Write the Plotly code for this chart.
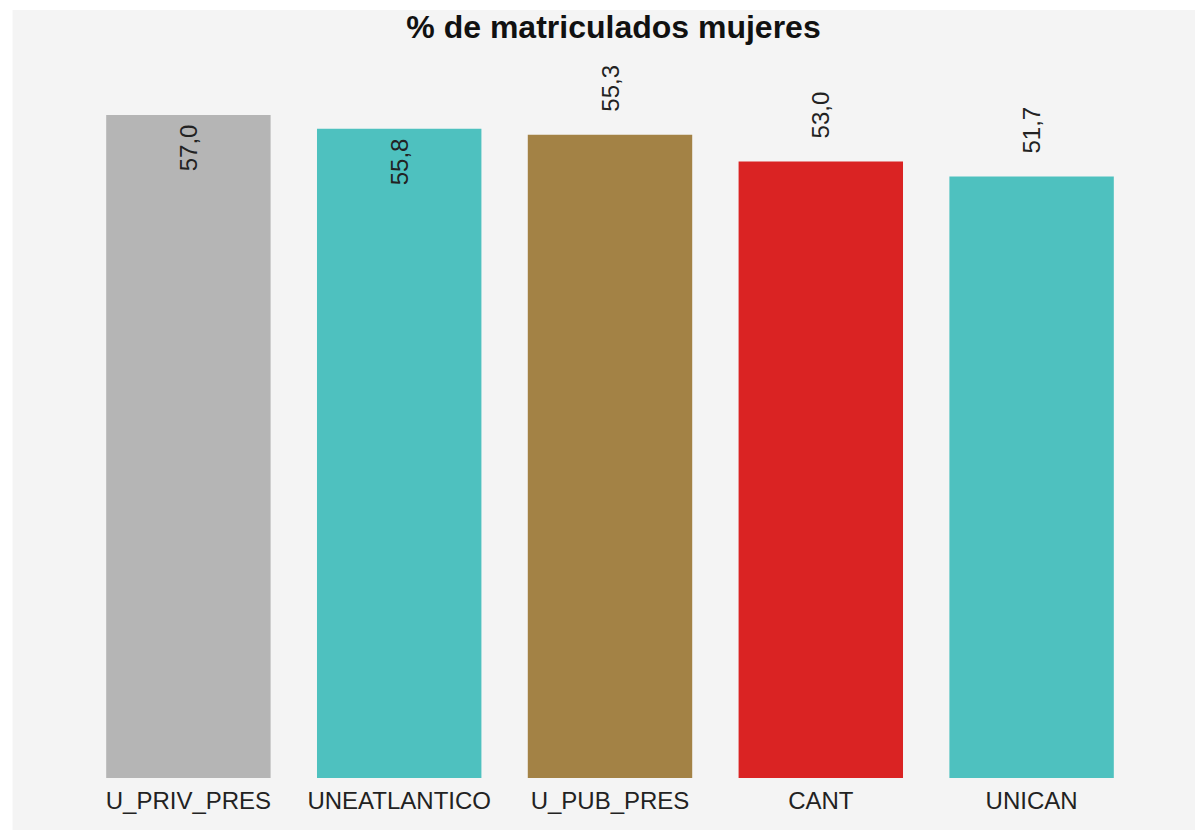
import plotly.graph_objects as go

categories = ["U_PRIV_PRES", "UNEATLANTICO", "U_PUB_PRES", "CANT", "UNICAN"]
values = [57.0, 55.8, 55.3, 53.0, 51.7]
labels = ["57,0", "55,8", "55,3", "53,0", "51,7"]
colors = ["#b5b5b5", "#4ec1bf", "#a38245", "#da2323", "#4ec1bf"]
text_positions = ["inside", "inside", "outside", "outside", "outside"]

W, H = 1195, 822
L, R, T, B = 74.5, 65.5, 72, 52
BG = "#f4f4f4"
NB = "\u00a0"

templates = [("%{text}" + NB) if p == "inside" else (NB * 3 + "%{text}")
             for p in text_positions]

fig = go.Figure(go.Bar(
    x=categories, y=values, text=labels, texttemplate=templates,
    marker=dict(color=colors, line=dict(width=0)),
    textposition=text_positions, textangle=-90,
    insidetextanchor="end",
    textfont=dict(family="Liberation Sans, Arial", size=24, color="#222222"),
    cliponaxis=False,
    hoverinfo="x+y",
))

pw = W - L - R
ph = H - T - B
fig.add_shape(type="rect", xref="paper", yref="paper",
              x0=(4 - L) / pw, x1=(W - L) / pw + 0.01,
              y0=-B / ph - 0.01, y1=(H - 2 - B) / ph,
              fillcolor=BG, line=dict(width=0), layer="below")

fig.update_layout(
    width=W, height=H, autosize=False,
    margin=dict(l=L, r=R, t=T, b=B, pad=0),
    paper_bgcolor="white", plot_bgcolor=BG,
    bargap=0.22,
    showlegend=False,
    uniformtext=dict(mode=False),
    title=dict(text="<b>% de matriculados mujeres</b>", x=(613.5 - 8) / W,
               xanchor="center", y=1 - 19 / H, yanchor="middle",
               font=dict(family="Liberation Sans, Arial", size=32, color="#111111")),
    xaxis=dict(showgrid=False, zeroline=False, showline=False, ticks="",
               ticklabelstandoff=6,
               tickfont=dict(family="Liberation Sans, Arial", size=24, color="#222222")),
    yaxis=dict(visible=False, range=[0, 60]),
    font=dict(family="Liberation Sans, Arial"),
)

fig.write_html("out.html")
